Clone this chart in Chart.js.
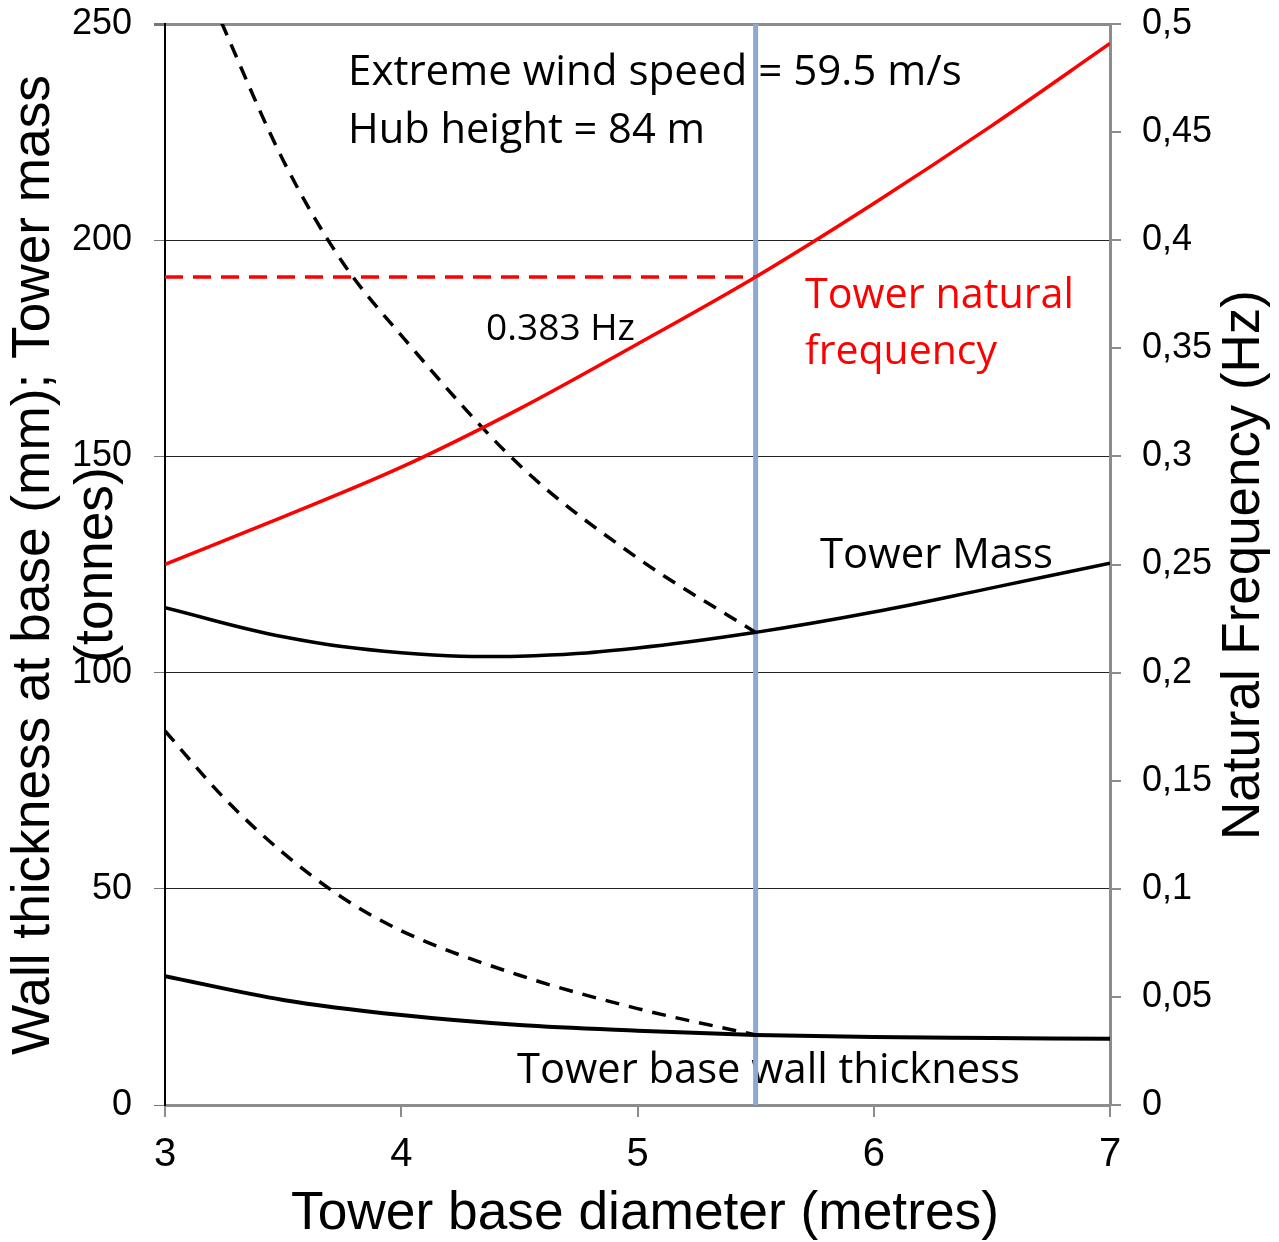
<!DOCTYPE html>
<html>
<head>
<meta charset="utf-8">
<script src="https://cdn.jsdelivr.net/npm/chart.js@4.4.1/dist/chart.umd.min.js"></script>
<style>
  html, body { margin: 0; padding: 0; background: #fff; }
  #wrap { width: 1279px; height: 1242px; }
</style>
</head>
<body>
<div id="wrap"><canvas id="chart" width="1279" height="1242"></canvas></div>
<script>
(function () {
  "use strict";

  // Tower base diameter (m)
  const diameter = [3, 3.5, 4, 4.5, 5, 5.5, 6, 6.5, 7];
  const towerMass = [115, 108.3, 104.6, 103.8, 105.7, 109.3, 114, 119.6, 125.3];
  const wallThickness = [29.8, 24.3, 20.8, 18.5, 17.2, 16.2, 15.7, 15.5, 15.3];
  const naturalFrequency = [0.25, 0.272, 0.295, 0.322, 0.352, 0.383, 0.417, 0.453, 0.491];

  // dashed branches (below the chosen diameter)
  const smallDiameter = [3, 3.25, 3.5, 3.75, 4, 4.5, 5, 5.5];
  const smallMass = [281, 249, 218.5, 195, 178, 148, 126.5, 109.3];
  const smallWall = [86.5, 71, 58.3, 48, 40.3, 30, 22.3, 16.2];

  const designDiameter = 5.5;
  const designFrequency = 0.383;

  const leftTicks = [0, 50, 100, 150, 200, 250];
  const rightMax = 0.5;
  const xTicks = [3, 4, 5, 6, 7];

  const toPoints = (xs, ys) => xs.map((x, i) => ({ x: x, y: ys[i] }));
  const noPad = (s) => { s.paddingTop = 0; s.paddingBottom = 0; s.paddingLeft = 0; s.paddingRight = 0; };

  function fitFont(ctx, text, family, width) {
    ctx.font = "100px " + family;
    return (100 * width) / ctx.measureText(text).width;
  }

  function drawText(ctx, text, x, y, size, color, family, align, rotate) {
    ctx.save();
    ctx.font = size.toFixed(2) + "px " + family;
    ctx.fillStyle = color;
    ctx.textBaseline = "alphabetic";
    ctx.textAlign = align;
    ctx.translate(x, y);
    if (rotate) ctx.rotate(-Math.PI / 2);
    ctx.fillText(text, 0, 0);
    ctx.restore();
  }

  function drawFitted(ctx, text, x, y, width, color, family, align, rotate) {
    drawText(ctx, text, x, y, fitFont(ctx, text, family, width), color, family, align, rotate);
  }

  const labelsPlugin = {
    id: "labels",
    beforeDatasetsDraw(chart) {
      var ctx = chart.ctx;
      var note = "'Open Sans', sans-serif";
      drawFitted(ctx, "Extreme wind speed = 59.5 m/s", 348, 85, 614, "#000", note, "left");
      drawFitted(ctx, "Hub height = 84 m", 348, 143, 357, "#000", note, "left");
      drawFitted(ctx, "0.383 Hz", 486, 340, 149, "#000", note, "left");
      drawFitted(ctx, "Tower natural", 805, 308, 269, "#ff0000", note, "left");
      drawFitted(ctx, "frequency", 805, 364, 192, "#ff0000", note, "left");
      drawFitted(ctx, "Tower Mass", 820, 568, 233, "#000", note, "left");
      drawFitted(ctx, "Tower base wall thickness", 517, 1083, 503, "#000", note, "left");
    },
    afterDraw(chart) {
      var ctx = chart.ctx;
      var axis = "'Liberation Sans', Arial, sans-serif";
      var line1 = "Wall thickness at base (mm); Tower mass";
      var size = fitFont(ctx, line1, axis, 980);
      drawText(ctx, line1, 49, 565, size, "#000", axis, "center", true);
      drawText(ctx, "(tonnes)", 112, 565, size, "#000", axis, "center", true);
      drawFitted(ctx, "Natural Frequency (Hz)", 1259, 565, 550, "#000", axis, "center", true);
      drawFitted(ctx, "Tower base diameter (metres)", 645, 1229, 708, "#000", axis, "center");
    },
  };

  const ctx = document.getElementById("chart").getContext("2d");
  new Chart(ctx, {
    type: "line",
    data: {
      datasets: [
        {
          label: "Design diameter",
          data: [{ x: designDiameter, y: 0 }, { x: designDiameter, y: 250 }],
          yAxisID: "y",
          borderColor: "#8ea8d4",
          borderWidth: 5,
          order: 5,
        },
        {
          label: "0.383 Hz",
          data: [{ x: diameter[0], y: designFrequency }, { x: designDiameter, y: designFrequency }],
          yAxisID: "y2",
          borderColor: "#ff0000",
          borderWidth: 3.5,
          borderDash: [18, 10],
          order: 4,
        },
        {
          label: "Tower natural frequency",
          data: toPoints(diameter, naturalFrequency),
          yAxisID: "y2",
          borderColor: "#ff0000",
          borderWidth: 3.5,
          order: 1,
        },
        {
          label: "Tower Mass",
          data: toPoints(diameter, towerMass),
          yAxisID: "y",
          borderColor: "#000",
          borderWidth: 3.5,
          cubicInterpolationMode: "default",
          tension: 0.4,
          order: 1,
        },
        {
          label: "Tower base wall thickness",
          data: toPoints(diameter, wallThickness),
          yAxisID: "y",
          borderColor: "#000",
          borderWidth: 4,
          order: 1,
        },
        {
          label: "Mass (small diameter)",
          data: toPoints(smallDiameter, smallMass),
          yAxisID: "y",
          borderColor: "#000",
          borderWidth: 3.5,
          borderDash: [14, 10],
          order: 2,
        },
        {
          label: "Wall (small diameter)",
          data: toPoints(smallDiameter, smallWall),
          yAxisID: "y",
          borderColor: "#000",
          borderWidth: 3.5,
          borderDash: [14, 10],
          order: 2,
        },
      ],
    },
    options: {
      responsive: false,
      animation: false,
      layout: { padding: { top: 24, left: 0, right: 0, bottom: 0 } },
      elements: {
        point: { radius: 0 },
        line: { cubicInterpolationMode: "monotone", fill: false, borderCapStyle: "butt" },
      },
      plugins: {
        legend: { display: false },
        tooltip: { enabled: false },
      },
      scales: {
        x: {
          type: "linear",
          min: xTicks[0],
          max: xTicks[xTicks.length - 1],
          afterFit: (s) => { s.height = 137; noPad(s); },
          afterBuildTicks: (s) => { s.ticks = xTicks.map((v) => ({ value: v })); },
          border: { color: "#8c8c8c", width: 3 },
          grid: { drawOnChartArea: false, drawTicks: true, tickLength: 12, color: "#8c8c8c", lineWidth: 2 },
          ticks: {
            font: { family: "'Liberation Sans', Arial, sans-serif", size: 40 },
            color: "#000",
            padding: 14,
            maxRotation: 0,
          },
        },
        y: {
          position: "left",
          min: 0,
          max: 250,
          afterFit: (s) => { s.width = 165; noPad(s); },
          afterBuildTicks: (s) => { s.ticks = leftTicks.map((v) => ({ value: v })); },
          border: { color: "#000", width: 2 },
          grid: {
            color: (c) => (c.tick && c.tick.value === 250 ? "#8c8c8c" : "#222"),
            lineWidth: (c) => (c.tick && c.tick.value === 250 ? 3 : 1),
            tickColor: "#777",
            tickLength: 11,
          },
          ticks: {
            font: { family: "'Liberation Sans', Arial, sans-serif", size: 36 },
            color: "#000",
            padding: 22,
          },
        },
        y2: {
          position: "right",
          min: 0,
          max: rightMax,
          afterFit: (s) => { s.width = 169; noPad(s); },
          border: { color: "#8c8c8c", width: 3 },
          grid: { drawOnChartArea: false, tickLength: 11, color: "#8c8c8c", lineWidth: 2 },
          ticks: {
            stepSize: 0.05,
            font: { family: "'Liberation Sans', Arial, sans-serif", size: 36 },
            color: "#000",
            padding: 21,
            callback: (v) => String(Number(v.toFixed(2))).replace(".", ","),
          },
        },
      },
    },
    plugins: [labelsPlugin],
  });
})();
</script>
</body>
</html>
